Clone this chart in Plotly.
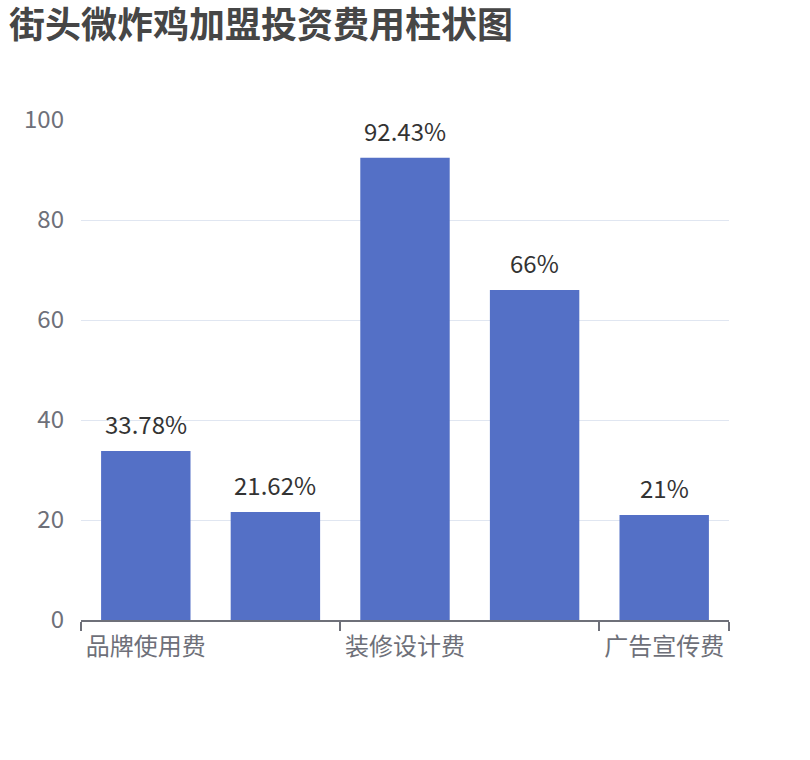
import plotly.graph_objects as go

# categories (only every other label is shown on the axis, like the original)
categories = ['品牌使用费', '加盟费', '装修设计费', '设备费', '广告宣传费']
values = [33.78, 21.62, 92.43, 66, 21]
value_labels = ['33.78%', '21.62%', '92.43%', '66%', '21%']
y_ticks = [0, 20, 40, 60, 80, 100]

idx = list(range(len(categories)))

fig = go.Figure()
fig.add_trace(go.Bar(
    x=idx, y=values,
    customdata=categories,
    hovertemplate='%{customdata}: %{y}<extra></extra>',
    marker=dict(color='#5470c6', line=dict(width=0)),
))

for i, v, t in zip(idx, values, value_labels):
    fig.add_annotation(x=i, y=v, text=t, showarrow=False, yanchor='bottom',
                       yshift=8, font=dict(size=24, color='#333333'))

fig.update_layout(
    width=810, height=760,
    margin=dict(l=81, r=81, t=120, b=140),
    plot_bgcolor='white', paper_bgcolor='white',
    font=dict(family='Noto Sans CJK SC, Noto Sans, sans-serif'),
    title=dict(text='<b>街头微炸鸡加盟投资费用柱状图</b>', x=0.011, xanchor='left',
               yref='container', y=0.966, yanchor='middle',
               font=dict(size=36, color='#464646')),
    bargap=0.31,
    showlegend=False,
)
fig.update_xaxes(
    range=[-0.5, 4.5],
    tickmode='array', tickvals=idx[::2], ticktext=categories[::2],
    ticks='', tickfont=dict(size=24, color='#6E7079'), ticklabelstandoff=4,
    showline=True, linecolor='#6E7079', linewidth=2,
    showgrid=False, zeroline=False,
    minor=dict(tickmode='array', tickvals=[-0.5, 1.5, 3.5, 4.5], ticks='outside',
               ticklen=9, tickcolor='#6E7079', tickwidth=2, showgrid=False),
)
fig.update_yaxes(
    range=[0, 100], tickvals=y_ticks,
    tickfont=dict(size=24, color='#6E7079'),
    showgrid=True, gridcolor='#E0E6F1', gridwidth=1,
    zeroline=False, showline=False, ticks='', ticklabelstandoff=16,
)

fig.write_html("out.html", config={'displayModeBar': False},
               post_script="document.body.style.margin='0';")
